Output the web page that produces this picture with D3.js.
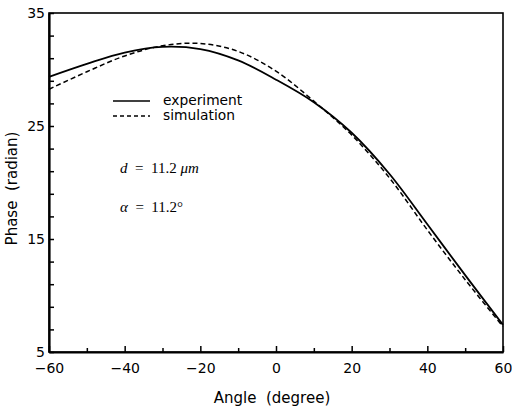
<!DOCTYPE html>
<html>
<head>
<meta charset="utf-8">
<script src="https://cdn.jsdelivr.net/npm/d3@7"></script>
<style>
  body { margin: 0; background: #fff; }
  svg { display: block; }
  .axis text { font-family: "DejaVu Sans", sans-serif; font-size: 14px; fill: #000; }
</style>
</head>
<body>
<div id="chart"></div>
<script>
// Experiment and simulation phase curves
const angles     = [-60, -50, -40, -30, -20, -10, 0, 10, 20, 30, 40, 50, 60];
const expPhase   = [29.35, 30.5, 31.5, 32.0, 31.8, 30.8, 29.1, 27.1, 24.4, 20.75, 16.3, 11.8, 7.4];
const simPhase   = [28.25, 29.8, 31.2, 32.1, 32.3, 31.6, 29.85, 27.2, 24.2, 20.4, 15.8, 11.4, 7.25];

const xMajor = [-60, -40, -20, 0, 20, 40, 60];
const xMinor = [-50, -30, -10, 10, 30, 50];
const yTicks = d3.range(5, 36, 2);
const yLabels = [5, 15, 25, 35];

const width = 512, height = 410;
const margin = { top: 13, right: 9, bottom: 58, left: 49 };

const svg = d3.select('#chart')
    .append('svg')
    .attr('width', width)
    .attr('height', height);

const x = d3.scaleLinear().domain([-60, 60]).range([margin.left, width - margin.right]);
const y = d3.scaleLinear().domain([5, 35]).range([height - margin.bottom, margin.top]);

// frame: top and right are thinner
svg.append('rect')
    .attr('x', x(-60)).attr('y', y(35))
    .attr('width', x(60) - x(-60)).attr('height', y(5) - y(35))
    .attr('fill', 'none').attr('stroke', '#000').attr('stroke-width', 1.6);

// x axis, ticks pointing up into the plot
svg.append('g')
    .attr('class', 'axis')
    .attr('transform', `translate(0, ${y(5)})`)
    .call(d3.axisBottom(x).tickValues(xMinor).tickSize(-4).tickSizeOuter(0).tickFormat(''))
    .call(g => g.select('.domain').remove());

svg.append('g')
    .attr('class', 'axis')
    .attr('transform', `translate(0, ${y(5)})`)
    .call(d3.axisBottom(x).tickValues(xMajor).tickSize(-6).tickSizeOuter(0).tickPadding(11))
    .call(g => g.select('.domain').attr('stroke-width', 2.2));

// y axis, ticks pointing right into the plot
svg.append('g')
    .attr('class', 'axis')
    .attr('transform', `translate(${x(-60)}, 0)`)
    .call(d3.axisLeft(y).tickValues(yTicks).tickSize(-5).tickSizeOuter(0).tickPadding(4)
        .tickFormat(d => yLabels.includes(d) ? d : ''))
    .call(g => g.select('.domain').attr('stroke-width', 2.2));

svg.selectAll('.axis line').attr('stroke-width', 1.5);

// axis titles
svg.append('text')
    .attr('x', 272).attr('y', 403)
    .attr('text-anchor', 'middle')
    .attr('font-family', 'DejaVu Sans, sans-serif')
    .attr('font-size', 15)
    .attr('xml:space', 'preserve')
    .text('Angle  (degree)');

svg.append('text')
    .attr('transform', `translate(17, ${(y(5) + y(35)) / 2 + 6}) rotate(-90)`)
    .attr('text-anchor', 'middle')
    .attr('font-family', 'DejaVu Sans, sans-serif')
    .attr('font-size', 15)
    .attr('xml:space', 'preserve')
    .text('Phase  (radian)');

// curves
const line = d3.line()
    .x(d => x(d[0]))
    .y(d => y(d[1]))
    .curve(d3.curveCatmullRom.alpha(0.5));

svg.append('path')
    .datum(d3.zip(angles, simPhase))
    .attr('d', line)
    .attr('fill', 'none')
    .attr('stroke', '#000')
    .attr('stroke-width', 1.5)
    .attr('stroke-dasharray', '5,3');

svg.append('path')
    .datum(d3.zip(angles, expPhase))
    .attr('d', line)
    .attr('fill', 'none')
    .attr('stroke', '#000')
    .attr('stroke-width', 1.8);

// legend
const legend = [
    { label: 'experiment', dash: null, y: 101 },
    { label: 'simulation', dash: '4,3', y: 116 }
];
legend.forEach(d => {
    svg.append('line')
        .attr('x1', 113).attr('x2', 150)
        .attr('y1', d.y).attr('y2', d.y)
        .attr('stroke', '#000')
        .attr('stroke-width', 1.5)
        .attr('stroke-dasharray', d.dash);
    svg.append('text')
        .attr('x', 163).attr('y', d.y + 4)
        .attr('font-family', 'DejaVu Sans, sans-serif')
        .attr('font-size', 13.8)
        .text(d.label);
});

// parameter annotations
const note1 = svg.append('text')
    .attr('x', 120).attr('y', 173)
    .attr('font-family', 'Liberation Serif, serif')
    .attr('font-size', 15)
    .attr('xml:space', 'preserve');
note1.append('tspan').attr('font-style', 'italic').text('d');
note1.append('tspan').text('  =  11.2 ');
note1.append('tspan').attr('font-style', 'italic').text('μm');

const note2 = svg.append('text')
    .attr('x', 120).attr('y', 212)
    .attr('font-family', 'Liberation Serif, serif')
    .attr('font-size', 15)
    .attr('xml:space', 'preserve');
note2.append('tspan').attr('font-style', 'italic').text('α');
note2.append('tspan').text('  =  11.2°');
</script>
</body>
</html>
